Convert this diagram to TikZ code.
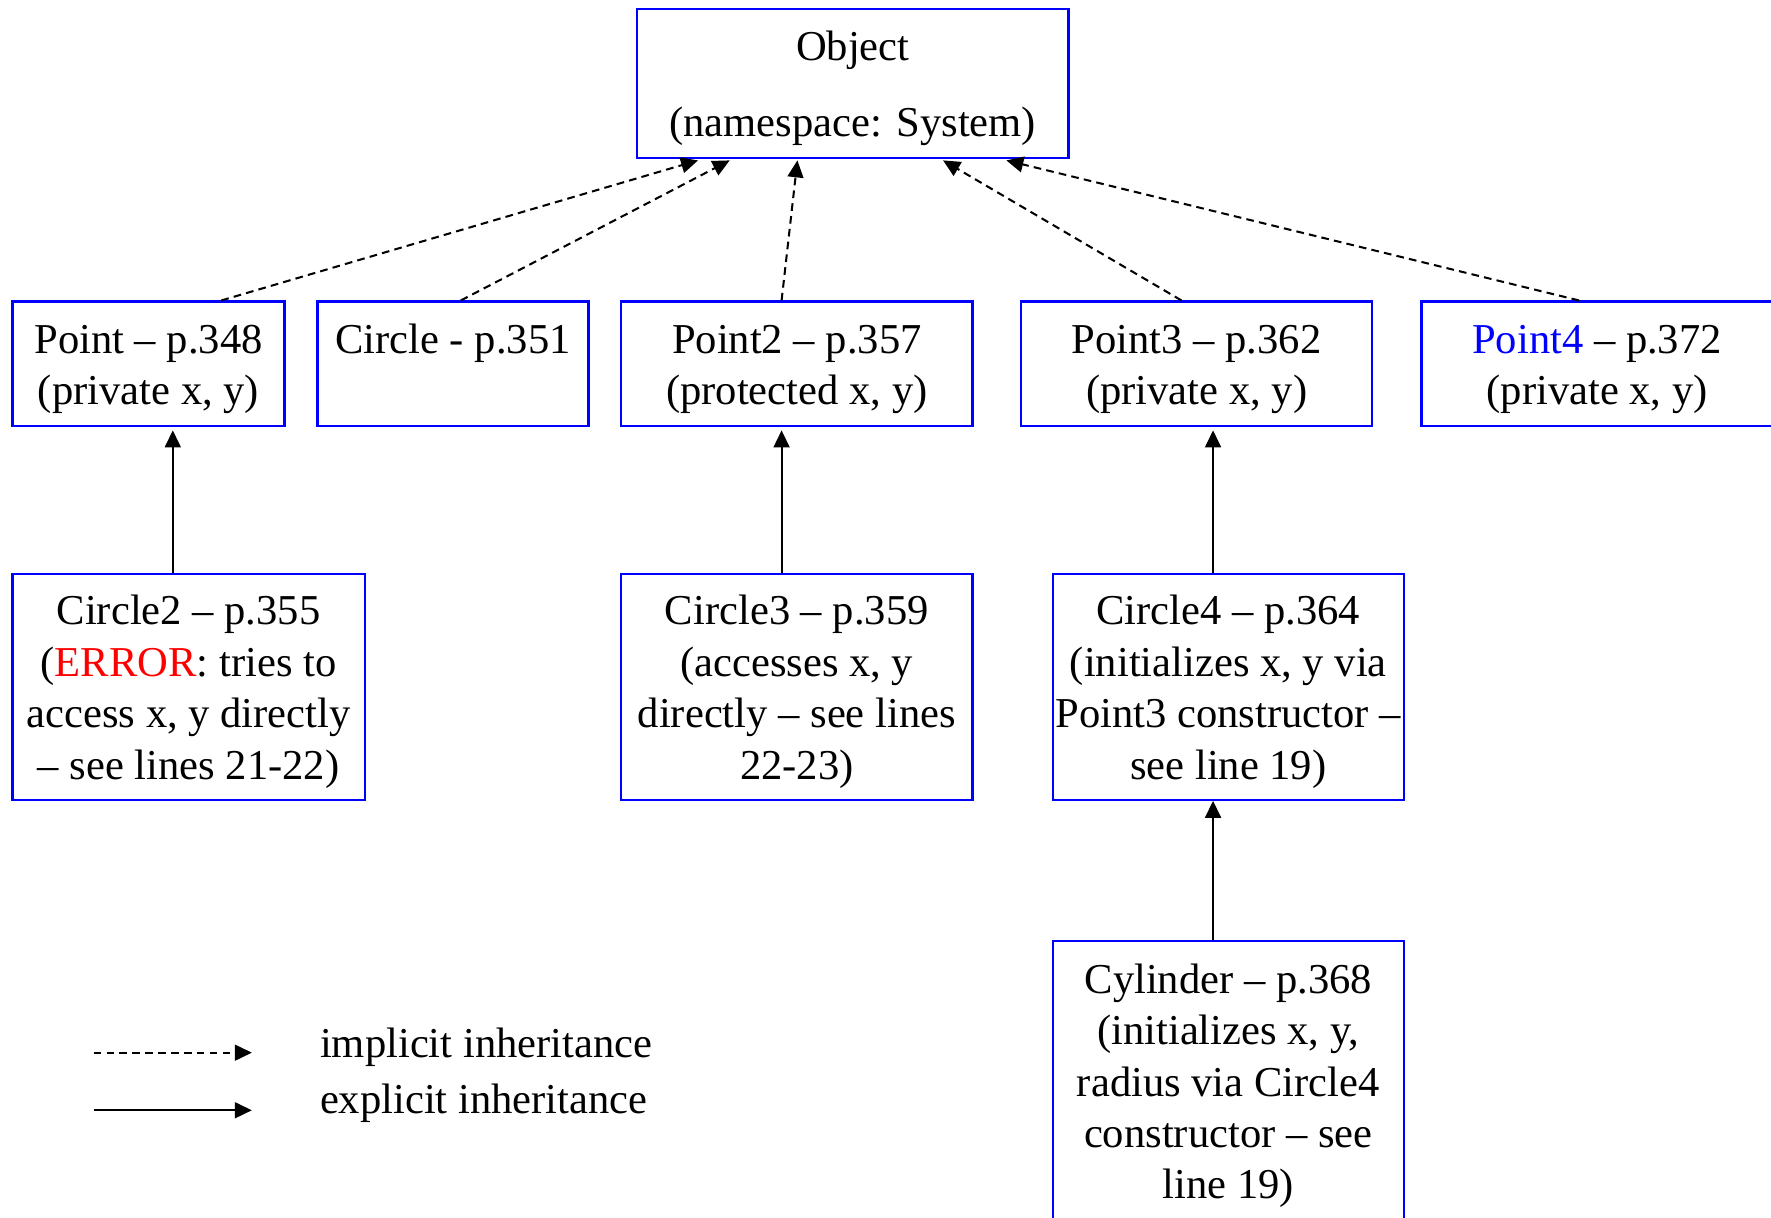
\documentclass[tikz,border=0pt]{standalone}
\usepackage{fontspec}
\setmainfont{Liberation Serif}
\usetikzlibrary{arrows.meta,calc}
% raises the first line so that the text sits a little lower in its box
\newcommand\firststrut{\rule{0pt}{17.5pt}}
\begin{document}
\begin{tikzpicture}[x=0.5pt,y=-0.5pt,
  classbox/.style={draw=blue, line width=1pt, inner sep=0pt, align=center,
    font=\fontsize{18.85}{22.75}\selectfont},
  implicit/.style={dash pattern=on 3.4pt off 2.3pt, line width=0.9pt,
    -{Triangle[length=7.5pt,width=7pt]}},
  explicit/.style={line width=0.9pt, -{Triangle[length=7.5pt,width=7pt]}},
  legendtext/.style={anchor=west, inner sep=0pt, font=\fontsize{18.85}{22.75}\selectfont}]
\useasboundingbox (0,0) rectangle (1568,1078);

% base class
\node[classbox, minimum width=191pt, minimum height=66pt] (obj) at (755,74)
  {\firststrut Object\\[10.75pt](namespace: System)};

% first level
\node[classbox, minimum width=120.5pt, minimum height=55pt] (point) at (131.5,322)
  {\firststrut Point – p.348\\(private x, y)};
\node[classbox, minimum width=120pt, minimum height=55pt] (circ) at (401,322)
  {\firststrut Circle - p.351\\\vphantom{(}};
\node[classbox, minimum width=155.5pt, minimum height=55pt] (pt2) at (705.5,322)
  {\firststrut Point2 – p.357\\(protected x, y)};
\node[classbox, minimum width=155.5pt, minimum height=55pt] (pt3) at (1059.5,322)
  {\firststrut Point3 – p.362\\(private x, y)};
\node[classbox, minimum width=155.5pt, minimum height=55pt] (pt4) at (1414,322)
  {\firststrut\textcolor{blue}{Point4} – p.372\\(private x, y)};

% second level
\node[classbox, minimum width=156pt, minimum height=100pt] (c2) at (167,608)
  {\firststrut Circle2 – p.355\\(\textcolor{red}{ERROR}: tries to\\access x, y directly\\– see lines 21-22)};
\node[classbox, minimum width=155.5pt, minimum height=100pt] (c3) at (705.5,608)
  {\firststrut Circle3 – p.359\\(accesses x, y\\directly – see lines\\22-23)};
\node[classbox, minimum width=155.5pt, minimum height=100pt] (c4) at (1087.5,608)
  {\firststrut Circle4 – p.364\\(initializes x, y via\\Point3 constructor –\\see line 19)};

% third level
\node[classbox, minimum width=155.5pt, minimum height=124pt] (cyl) at (1087.5,957)
  {\firststrut Cylinder – p.368\\(initializes x, y,\\radius via Circle4\\constructor – see\\line 19)};

% implicit inheritance from Object
\draw[implicit] ($(point.north)+(64.5,0)$) -- ($(obj.south)+(-137,1)$);
\draw[implicit] ($(circ.north)+(7,0)$) -- ($(obj.south)+(-109,1)$);
\draw[implicit] ($(pt2.north)+(-13.5,0)$) -- ($(obj.south)+(-49,1)$);
\draw[implicit] ($(pt3.north)+(-13.5,0)$) -- ($(obj.south)+(80,1)$);
\draw[implicit] ($(pt4.north)+(-16,0)$) -- ($(obj.south)+(136,1)$);

% explicit inheritance
\draw[explicit] ($(c2.north)+(-14,0)$) -- ($(point.south)+(21.5,3)$);
\draw[explicit] ($(c3.north)+(-13.5,0)$) -- ($(pt2.south)+(-13.5,3)$);
\draw[explicit] ($(c4.north)+(-13.5,0)$) -- ($(pt3.south)+(14.5,3)$);
\draw[explicit] ($(cyl.north)+(-13.5,0)$) -- ($(c4.south)+(-13.5,0)$);

% legend
\coordinate (li0) at (83,932);
\coordinate (li1) at (223,932);
\coordinate (le0) at (83,983);
\coordinate (le1) at (223,983);
\draw[implicit] (li0) -- (li1);
\draw[explicit] (le0) -- (le1);
\node[legendtext] (lit) at (283,927) {implicit inheritance};
\node[legendtext] (let) at (283,977) {explicit inheritance};
\end{tikzpicture}
\end{document}
